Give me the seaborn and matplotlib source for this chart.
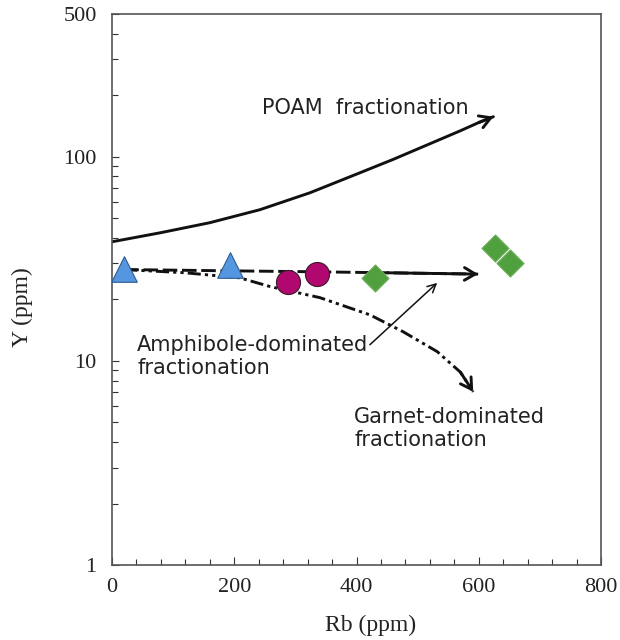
import matplotlib
matplotlib.use("Agg")
import matplotlib.pyplot as plt
import seaborn as sns
import numpy as np
from matplotlib.ticker import MultipleLocator, LogLocator, NullFormatter, FixedLocator

sns.set_theme(style="white")
plt.rcParams['font.family'] = ['Liberation Serif', 'DejaVu Sans']

# Sample data
tri_rb = [20, 193]
tri_y = [28.1, 29.4]
circ_rb = [288, 335]
circ_y = [24.4, 26.7]
dia_rb = [430, 627, 651]
dia_y = [25.5, 35.8, 30.2]

# Trend curves
poam_rb = [0, 79, 160, 242, 324, 406, 460, 515, 570, 600, 624]
poam_y = [38.3, 42.4, 47.5, 55.0, 66.6, 83.5, 97, 114, 134, 147, 157]
amph_rb = [20, 193, 335, 450, 599]
amph_y = [28.0, 27.6, 27.3, 27.0, 26.6]
garnet_rb = [20, 120, 209, 259, 340, 422, 476, 532, 570, 591]
garnet_y = [28.0, 27.0, 25.5, 23.1, 20.4, 16.8, 13.9, 11.1, 8.8, 7.05]

fig = plt.figure(figsize=(6.2, 6.4), dpi=100)
ax = fig.add_axes([112/620, 75/640, (601-112)/620, (565-14)/640])

lw = 2.1
ink = '#111111'
sns.lineplot(x=poam_rb, y=poam_y, ax=ax, color=ink, lw=lw, sort=False, estimator=None)
sns.lineplot(x=amph_rb, y=amph_y, ax=ax, color=ink, lw=lw, sort=False, estimator=None,
             linestyle=(0, (5, 1.6)))
sns.lineplot(x=garnet_rb, y=garnet_y, ax=ax, color=ink, lw=lw, sort=False, estimator=None,
             linestyle=(0, (4.5, 1.4, 1.1, 1.4, 1.1, 1.4)))
for ln in ax.lines:
    ln.set_solid_joinstyle('round')
    ln.set_dash_joinstyle('round')

# Arrow heads
for xs, ys in [(poam_rb, poam_y), (amph_rb, amph_y), (garnet_rb, garnet_y)]:
    ax.annotate('', xy=(xs[-1], ys[-1]), xytext=(xs[-2], ys[-2]),
                arrowprops=dict(arrowstyle='->,head_length=0.65,head_width=0.38', color=ink, lw=lw,
                                shrinkA=0, shrinkB=0))

# Data points
sns.scatterplot(x=tri_rb, y=tri_y, ax=ax, marker='^', s=340, color='#5596e0',
                edgecolor='#2d5c8f', linewidth=0.8, zorder=5)
sns.scatterplot(x=circ_rb, y=circ_y, ax=ax, marker='o', s=300, color='#b0086e',
                edgecolor='#3a1a2a', linewidth=0.8, zorder=5)
sns.scatterplot(x=dia_rb, y=dia_y, ax=ax, marker='D', s=190, color='#50a040',
                edgecolor='#6fae5c', linewidth=0.8, zorder=5)

# Annotation arrow for amphibole
ax.annotate('', xy=(532, 24.1), xytext=(422, 12.0),
            arrowprops=dict(arrowstyle='->,head_length=0.5,head_width=0.25', color=ink, lw=1.1,
                            shrinkA=0, shrinkB=0))

sans = ['DejaVu Sans']
tsize = 15
tcol = '#222222'
ax.text(245, 174, 'POAM  fractionation', family=sans, fontsize=tsize, va='center', ha='left', color=tcol)
ax.text(41, 12.0, 'Amphibole-dominated', family=sans, fontsize=tsize, va='center', ha='left', color=tcol)
ax.text(41, 9.25, 'fractionation', family=sans, fontsize=tsize, va='center', ha='left', color=tcol)
ax.text(396, 5.3, 'Garnet-dominated', family=sans, fontsize=tsize, va='center', ha='left', color=tcol)
ax.text(396, 4.1, 'fractionation', family=sans, fontsize=tsize, va='center', ha='left', color=tcol)

ax.set_yscale('log')
ax.set_xlim(0, 800)
ax.set_ylim(1, 500)
ax.xaxis.set_major_locator(MultipleLocator(200))
ax.xaxis.set_minor_locator(MultipleLocator(40))
ax.yaxis.set_major_locator(FixedLocator([1, 10, 100, 500]))
ax.set_yticklabels(['1', '10', '100', '500'])
ax.yaxis.set_minor_locator(LogLocator(base=10, subs=np.arange(2, 10)))
ax.yaxis.set_minor_formatter(NullFormatter())

ax.tick_params(axis='both', which='both', direction='in', top=False, right=False,
               left=True, bottom=True, colors='#333333', labelcolor='#222222', labelsize=16)
ax.tick_params(axis='x', which='major', length=6, width=0.8, pad=9)
ax.tick_params(axis='x', which='minor', length=4, width=0.8)
ax.tick_params(axis='y', which='major', length=5, width=0.8, pad=11)
ax.tick_params(axis='y', which='minor', length=4, width=0.8)

for sp in ax.spines.values():
    sp.set_color('#555555')
    sp.set_linewidth(1.2)

ax.set_xlabel('Rb (ppm)', fontsize=17, color='#222222', va='center')
ax.set_ylabel('Y (ppm)', fontsize=17, color='#222222', va='center')
ax.xaxis.set_label_coords(0.528, -0.109)
ax.yaxis.set_label_coords(-0.184, 0.468)

fig.savefig('out.png', dpi=100)
